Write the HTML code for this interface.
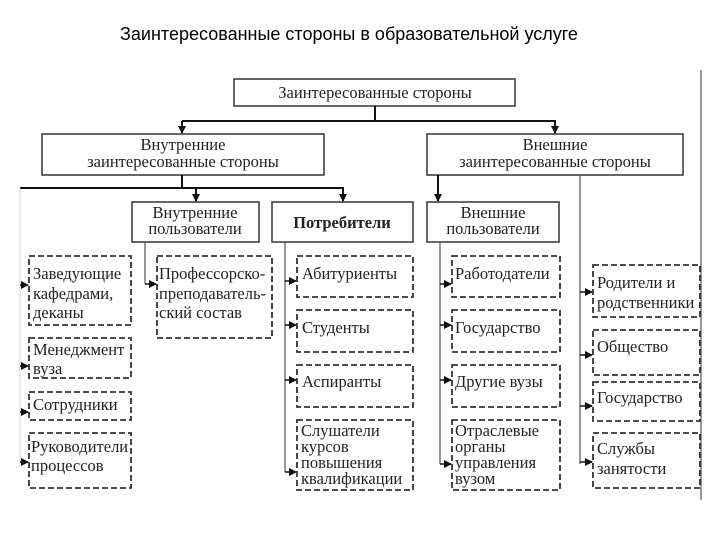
<!DOCTYPE html>
<html><head><meta charset="utf-8"><style>
body{margin:0;background:#fff;}
svg text{font-family:"Liberation Serif",serif;font-size:16.5px;fill:#222;}
</style></head><body>
<svg width="720" height="540" xmlns="http://www.w3.org/2000/svg">
<defs><marker id="a" markerWidth="8" markerHeight="8" refX="7" refY="4" orient="auto" markerUnits="userSpaceOnUse"><path d="M0,0L8,4L0,8z" fill="#111"/></marker></defs>
<text x="349" y="40" text-anchor="middle" style="font-family:'Liberation Sans',sans-serif;font-size:18px;fill:#000">Заинтересованные стороны в образовательной услуге</text>
<g fill="none" stroke="#333" stroke-width="1.5">
<rect x="234" y="79" width="281" height="27"/>
<rect x="42" y="134" width="282" height="41"/>
<rect x="427" y="134" width="256" height="41"/>
<rect x="132" y="202" width="127" height="40"/>
<rect x="272" y="202" width="141" height="40"/>
<rect x="427" y="202" width="132" height="40"/>
</g>
<g fill="none" stroke="#111" stroke-width="2">
<line x1="375" y1="106" x2="375" y2="121"/>
<line x1="182" y1="121" x2="556" y2="121"/>
<line x1="182" y1="121" x2="182" y2="133" marker-end="url(#a)"/>
<line x1="555" y1="121" x2="555" y2="133" marker-end="url(#a)"/>
<line x1="182" y1="175" x2="182" y2="188"/>
<line x1="20" y1="188" x2="344" y2="188"/>
<line x1="196" y1="188" x2="196" y2="201" marker-end="url(#a)"/>
<line x1="343" y1="188" x2="343" y2="201" marker-end="url(#a)"/>
<line x1="438" y1="175" x2="438" y2="201" marker-end="url(#a)"/>
</g>
<g fill="none" stroke="#555" stroke-width="1.2">
<line x1="701" y1="70" x2="701" y2="500"/>
<line x1="580" y1="175" x2="580" y2="464"/>
<line x1="145" y1="242" x2="145" y2="284"/>
<line x1="285" y1="242" x2="285" y2="472"/>
<line x1="440" y1="242" x2="440" y2="464"/>
<line x1="20" y1="188" x2="20" y2="462" stroke="#ddd"/>
</g>
<g stroke="#111" stroke-width="1.5" fill="none">
<line x1="20" y1="285" x2="28" y2="285" marker-end="url(#a)"/>
<line x1="20" y1="366" x2="28" y2="366" marker-end="url(#a)"/>
<line x1="20" y1="412" x2="28" y2="412" marker-end="url(#a)"/>
<line x1="20" y1="462" x2="28" y2="462" marker-end="url(#a)"/>
<line x1="145" y1="284" x2="156" y2="284" marker-end="url(#a)"/>
<line x1="285" y1="281" x2="296" y2="281" marker-end="url(#a)"/>
<line x1="285" y1="325" x2="296" y2="325" marker-end="url(#a)"/>
<line x1="285" y1="380" x2="296" y2="380" marker-end="url(#a)"/>
<line x1="285" y1="472" x2="296" y2="472" marker-end="url(#a)"/>
<line x1="440" y1="284" x2="451" y2="284" marker-end="url(#a)"/>
<line x1="440" y1="325" x2="451" y2="325" marker-end="url(#a)"/>
<line x1="440" y1="380" x2="451" y2="380" marker-end="url(#a)"/>
<line x1="440" y1="464" x2="451" y2="464" marker-end="url(#a)"/>
<line x1="580" y1="292" x2="592" y2="292" marker-end="url(#a)"/>
<line x1="580" y1="355" x2="592" y2="355" marker-end="url(#a)"/>
<line x1="580" y1="406" x2="592" y2="406" marker-end="url(#a)"/>
<line x1="580" y1="462" x2="592" y2="462" marker-end="url(#a)"/>
</g>
<g fill="none" stroke="#333" stroke-width="1.8" stroke-dasharray="6,3">
<rect x="29" y="256" width="102" height="69"/>
<rect x="29" y="338" width="102" height="40"/>
<rect x="29" y="392" width="102" height="28"/>
<rect x="29" y="433" width="102" height="55"/>
<rect x="157" y="256" width="115" height="82"/>
<rect x="297" y="256" width="116" height="41"/>
<rect x="297" y="310" width="116" height="42"/>
<rect x="297" y="365" width="116" height="42"/>
<rect x="297" y="420" width="116" height="70"/>
<rect x="452" y="256" width="108" height="41"/>
<rect x="452" y="310" width="108" height="42"/>
<rect x="452" y="365" width="108" height="42"/>
<rect x="452" y="420" width="108" height="70"/>
<rect x="593" y="265" width="107" height="52"/>
<rect x="593" y="330" width="107" height="45"/>
<rect x="593" y="382" width="107" height="39"/>
<rect x="593" y="433" width="107" height="55"/>
</g>
<text x="375" y="98" text-anchor="middle">Заинтересованные стороны</text>
<text x="183" y="150" text-anchor="middle">Внутренние</text>
<text x="183" y="167" text-anchor="middle">заинтересованные стороны</text>
<text x="555" y="150" text-anchor="middle">Внешние</text>
<text x="555" y="167" text-anchor="middle">заинтересованные стороны</text>
<text x="195" y="218" text-anchor="middle">Внутренние</text>
<text x="195" y="234" text-anchor="middle">пользователи</text>
<text x="342" y="228" text-anchor="middle" style="font-weight:bold">Потребители</text>
<text x="493" y="218" text-anchor="middle">Внешние</text>
<text x="493" y="234" text-anchor="middle">пользователи</text>
<text x="33" y="279">Заведующие</text><text x="33" y="299">кафедрами,</text><text x="33" y="318">деканы</text>
<text x="33" y="355">Менеджмент</text><text x="33" y="374">вуза</text>
<text x="33" y="410">Сотрудники</text>
<text x="31" y="452">Руководители</text><text x="31" y="471">процессов</text>
<text x="159" y="279">Профессорско-</text><text x="159" y="299">преподаватель-</text><text x="159" y="318">ский состав</text>
<text x="302" y="279">Абитуриенты</text>
<text x="302" y="333">Студенты</text>
<text x="302" y="387">Аспиранты</text>
<text x="301" y="436">Слушатели</text><text x="301" y="452">курсов</text><text x="301" y="468">повышения</text><text x="301" y="484">квалификации</text>
<text x="455" y="279">Работодатели</text>
<text x="455" y="333">Государство</text>
<text x="455" y="387">Другие вузы</text>
<text x="455" y="436">Отраслевые</text><text x="455" y="452">органы</text><text x="455" y="468">управления</text><text x="455" y="484">вузом</text>
<text x="597" y="288">Родители и</text><text x="597" y="308">родственники</text>
<text x="597" y="352">Общество</text>
<text x="597" y="403">Государство</text>
<text x="597" y="454">Службы</text><text x="597" y="474">занятости</text>
</svg>
</body></html>
